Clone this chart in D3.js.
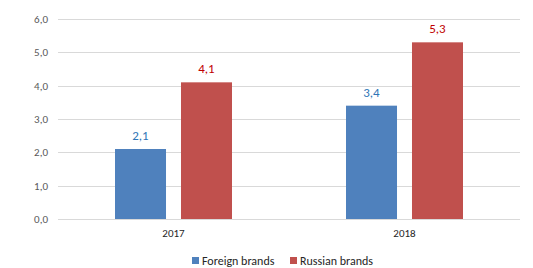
<!DOCTYPE html>
<html>
<head>
<meta charset="utf-8">
<script src="https://cdn.jsdelivr.net/npm/d3@7"></script>
<style>
  body { margin: 0; background: #fff; }
  text { font-family: Calibri, Carlito, Lato, sans-serif; }
</style>
</head>
<body>
<svg id="chart" width="533" height="268"></svg>
<script>
const years = ["2017", "2018"];
const seriesNames = ["Foreign brands", "Russian brands"];
const foreign = [2.1, 3.4];
const russian = [4.1, 5.3];
const yTicks = [0, 1, 2, 3, 4, 5, 6];

const barColors = ["#4F81BD", "#C0504D"];
const labelColors = ["#2E75B6", "#C00000"];

const margin = {left: 58, right: 13, top: 19, bottom: 49};
const width = 533, height = 268;
const w = width - margin.left - margin.right;
const h = height - margin.top - margin.bottom;

const svg = d3.select("#chart");
const g = svg.append("g").attr("transform", `translate(${margin.left},${margin.top})`);

const rows = years.map((year, i) => ({year, values: [foreign[i], russian[i]]}));

const x0 = d3.scaleBand().domain(years).range([0, w]);
const x1 = d3.scaleBand().domain(seriesNames).range([0, 117]).paddingInner(0.227);
const y = d3.scaleLinear().domain([0, 6]).range([h, 0]);

const fmt = v => d3.format(".1f")(v).replace(".", ",");

// gridlines
g.append("g")
  .selectAll("line")
  .data(yTicks)
  .join("line")
    .attr("x1", 0).attr("x2", w)
    .attr("y1", d => Math.round(y(d)) + 0.5)
    .attr("y2", d => Math.round(y(d)) + 0.5)
    .attr("stroke", "#d9d9d9");

// y labels
g.append("g")
  .selectAll("text")
  .data(yTicks)
  .join("text")
    .attr("x", -10)
    .attr("y", d => y(d))
    .attr("dy", "0.35em")
    .attr("text-anchor", "end")
    .attr("fill", "#595959")
    .style("font-size", "11px")
    .text(fmt);

// bars
const groups = g.append("g")
  .selectAll("g")
  .data(rows)
  .join("g")
    .attr("transform", d => `translate(${x0(d.year) + x0.bandwidth() / 2 - 58.5},0)`);

groups.selectAll("rect")
  .data(d => d.values.map((v, i) => ({key: seriesNames[i], v, i})))
  .join("rect")
    .attr("x", d => x1(d.key))
    .attr("width", x1.bandwidth())
    .attr("y", d => y(d.v))
    .attr("height", d => y(0) - y(d.v))
    .attr("fill", d => barColors[d.i]);

groups.selectAll("text")
  .data(d => d.values.map((v, i) => ({key: seriesNames[i], v, i})))
  .join("text")
    .attr("x", d => x1(d.key) + x1.bandwidth() / 2)
    .attr("y", d => y(d.v) - 9)
    .attr("text-anchor", "middle")
    .attr("fill", d => labelColors[d.i])
    .style("font-size", "13px")
    .text(d => fmt(d.v));

// x labels
g.append("g")
  .selectAll("text")
  .data(years)
  .join("text")
    .attr("x", d => x0(d) + x0.bandwidth() / 2)
    .attr("y", h + 18)
    .attr("text-anchor", "middle")
    .attr("fill", "#262626")
    .style("font-size", "11px")
    .text(d => d);

// legend
const legendX = [192, 290];
const legend = svg.append("g")
  .selectAll("g")
  .data(seriesNames)
  .join("g")
    .attr("transform", (d, i) => `translate(${legendX[i]},257)`);

legend.append("rect")
  .attr("width", 7).attr("height", 7)
  .attr("fill", (d, i) => barColors[i]);

legend.append("text")
  .attr("x", 10)
  .attr("y", 7.5)
  .attr("fill", "#262626")
  .style("font-size", "12px")
  .text(d => d);
</script>
</body>
</html>
